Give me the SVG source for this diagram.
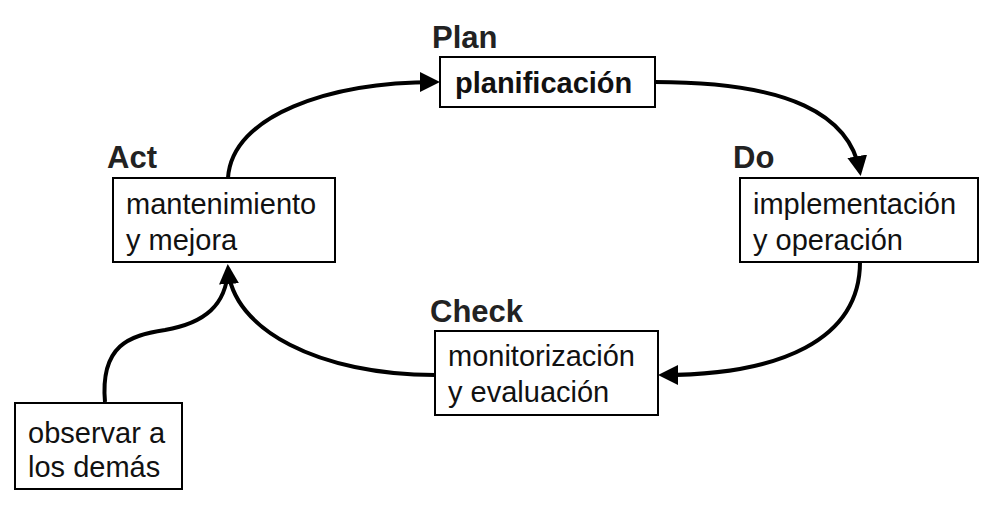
<svg xmlns="http://www.w3.org/2000/svg" width="997" height="509" viewBox="0 0 997 509">
<style>
.box{fill:#fff;stroke:#000;stroke-width:2}
.t{font-family:"Liberation Sans",Arial,sans-serif;font-size:29px;fill:#111}
.h{font-family:"Liberation Sans",Arial,sans-serif;font-size:31px;font-weight:bold;fill:#222}
.c{fill:none;stroke:#000;stroke-width:4}
</style>
<defs>
<marker id="ah" viewBox="0 0 10 10" refX="8" refY="5" markerWidth="5" markerHeight="5" orient="auto" markerUnits="strokeWidth">
<path d="M0,0 L10,5 L0,10 Z" fill="#000"/>
</marker>
</defs>
<rect width="997" height="509" fill="#fff"/>
<g id="connectors">
<path class="c" d="M228,178 C232,115 330,82 436,82" marker-end="url(#ah)"/>
<path class="c" d="M655,82 C790,82 850,115 860,172" marker-end="url(#ah)"/>
<path class="c" d="M860,262 C860,340 780,375 662,375" marker-end="url(#ah)"/>
<path class="c" d="M435,375 C320,375 232,330 228,268" marker-end="url(#ah)"/>
<path class="c" d="M105,402 C100,345 130,335 165,330 C205,323 226,305 228,270"/>
</g>
<g id="plan">
<text class="h" x="432" y="48">Plan</text>
<rect class="box" x="440" y="57" width="215" height="50"/>
<text class="t" x="455" y="93" font-weight="bold">planificación</text>
</g>
<g id="act">
<text class="h" x="107" y="168">Act</text>
<rect class="box" x="113" y="178" width="222" height="84"/>
<text class="t" x="126" y="214">mantenimiento</text>
<text class="t" x="126" y="250">y mejora</text>
</g>
<g id="do">
<text class="h" x="733" y="168">Do</text>
<rect class="box" x="740" y="178" width="238" height="84"/>
<text class="t" x="753" y="214">implementación</text>
<text class="t" x="753" y="250">y operación</text>
</g>
<g id="check">
<text class="h" x="430" y="322">Check</text>
<rect class="box" x="435" y="331" width="223" height="84"/>
<text class="t" x="448" y="366">monitorización</text>
<text class="t" x="448" y="402">y evaluación</text>
</g>
<g id="observar">
<rect class="box" x="15" y="403" width="167" height="86"/>
<text class="t" x="28" y="443">observar a</text>
<text class="t" x="28" y="477">los demás</text>
</g>
</svg>
